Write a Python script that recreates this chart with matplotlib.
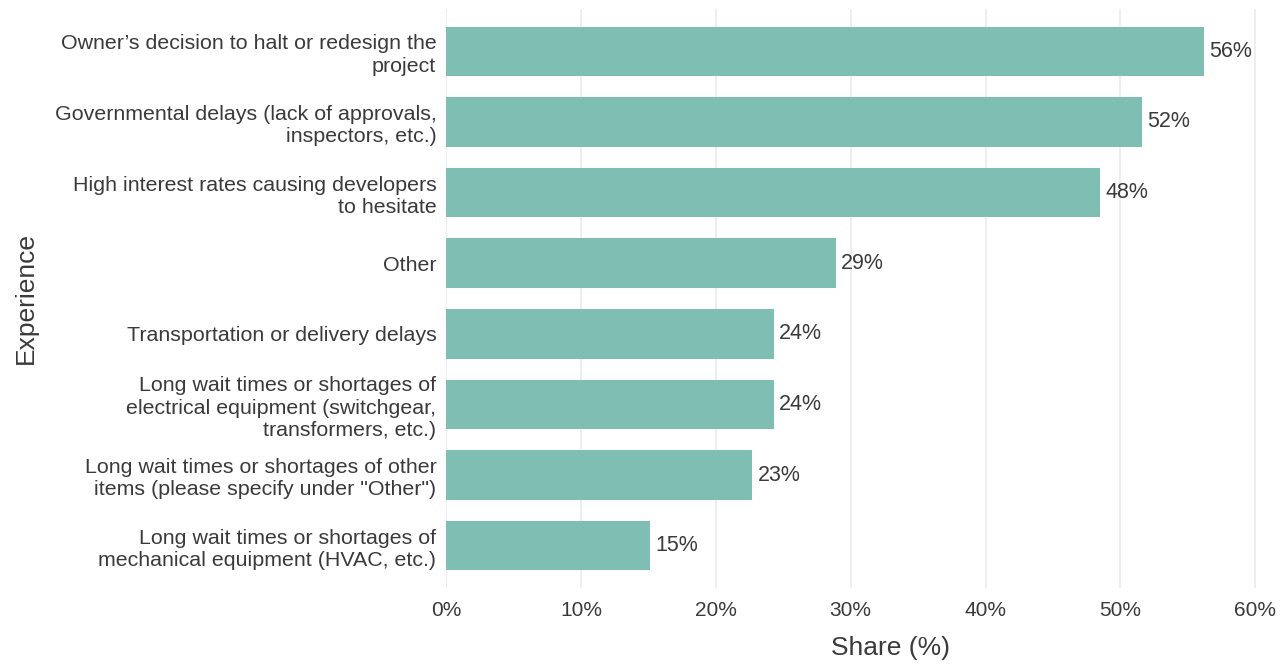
import matplotlib.pyplot as plt
import numpy as np

plt.rcParams['font.family'] = ['Liberation Sans', 'DejaVu Sans']

categories = [
    "Owner\u2019s decision to halt or redesign the\nproject",
    "Governmental delays (lack of approvals,\ninspectors, etc.)",
    "High interest rates causing developers\nto hesitate",
    "Other",
    "Transportation or delivery delays",
    "Long wait times or shortages of\nelectrical equipment (switchgear,\ntransformers, etc.)",
    "Long wait times or shortages of other\nitems (please specify under \"Other\")",
    "Long wait times or shortages of\nmechanical equipment (HVAC, etc.)",
]
shares = [56.2, 51.6, 48.5, 28.9, 24.3, 24.3, 22.7, 15.1]
xticks = [0, 10, 20, 30, 40, 50, 60]

bar_color = '#7fbfb3'
text_color = '#3a3a3a'

fig = plt.figure(figsize=(12.87, 6.65), dpi=100)
ax = fig.add_axes([446/1287, 1 - 588/665, (1262-446)/1287, (588-9)/665])

y = np.arange(len(categories))
ax.barh(y, shares, height=0.7, color=bar_color, zorder=2)
for yi, v in zip(y, shares):
    ax.text(v + 0.4, yi, f"{v:.0f}%", va='center', ha='left',
            fontsize=15.5, color=text_color, zorder=3)

ax.set_ylim(len(categories) - 0.4, -0.6)
ax.set_xlim(0, 60.5)
ax.set_yticks(y)
ax.set_yticklabels(categories, fontsize=15.4, color=text_color, linespacing=1.22)
ax.set_xticks(xticks)
ax.set_xticklabels([f"{t}%" for t in xticks], fontsize=15, color=text_color)
ax.tick_params(axis='both', length=0)
ax.tick_params(axis='y', pad=7)
ax.tick_params(axis='x', pad=9)

ax.grid(axis='x', color='#ebebeb', linewidth=1.2, zorder=0)
ax.grid(axis='y', visible=False)
for s in ax.spines.values():
    s.set_visible(False)

ax.set_xlabel("Share (%)", fontsize=19, color=text_color)
ax.xaxis.set_label_coords(0.545, -0.083)
ax.set_ylabel("Experience", fontsize=19, color=text_color)
ax.yaxis.set_label_coords(-0.50, 0.5)

fig.savefig('out.png', dpi=100, facecolor='white')
